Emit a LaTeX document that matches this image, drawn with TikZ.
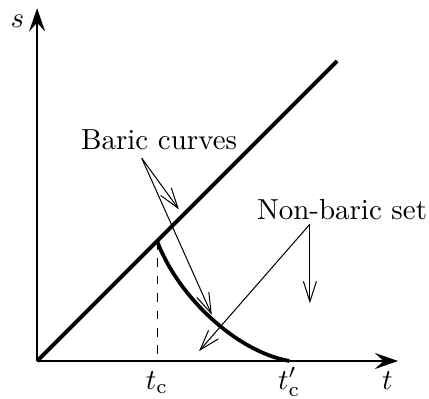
\documentclass[tikz,border=0pt]{standalone}
\usepackage{amsmath,amssymb}
\usetikzlibrary{arrows.meta,positioning}

\begin{document}
\begin{tikzpicture}[pointer/.style={-{Straight Barb[length=7pt,width=4.5pt]},line width=.35pt},axis/.style={-{Stealth[length=8pt,width=5.5pt,inset=3pt]},line width=.8pt},ticklab/.style={anchor=base}]
\useasboundingbox (-.45,-.45) rectangle (4.755,4.38);
\coordinate (O) at (0,0);
\coordinate (tc) at (1.456,1.456);
\coordinate (tcp) at (3.06,0);
% axes
\draw[axis] (O)--(4.38,0);
\draw[axis] (O)--(0,4.28) coordinate (stop);
\node[ticklab] (t) at (4.25,-.34) {$t$};
\node (s) at (-.24,4.12) {$s$};
% diagonal and curve
\draw[line width=1.3pt] (O)--(3.64,3.64) coordinate (diagend);
\draw[dashed,thin] (tc)--(tc|-O) coordinate (tcfoot);
\draw[line width=1.3pt] (tc) .. controls (1.7,.8) and (2.4,.12) .. (tcp);
\node[ticklab] (tclab) at (1.456,-.34) {$t_{\text{c}}$};
\node[ticklab] (tcplab) at (3.06,-.34) {$t'_{\text{c}}$};
% labels with pointers
\node (baric) at (1.48,2.68) {Baric curves};
\coordinate (bfrom) at (1.27,2.46);
\coordinate (bto1) at (1.72,1.84);
\coordinate (bto2) at (2.12,.56);
\draw[pointer] (bfrom)--(bto1);
\draw[pointer] (bfrom)--(bto2);
\node (nonbaric) at (3.70,1.84) {Non-baric set};
\coordinate (nfrom) at (3.31,1.66);
\coordinate (nto1) at (1.965,.12);
\coordinate (nto2) at (3.31,.70);
\draw[pointer] (nfrom)--(nto1);
\draw[pointer] (nfrom)--(nto2);
\end{tikzpicture}
\end{document}
